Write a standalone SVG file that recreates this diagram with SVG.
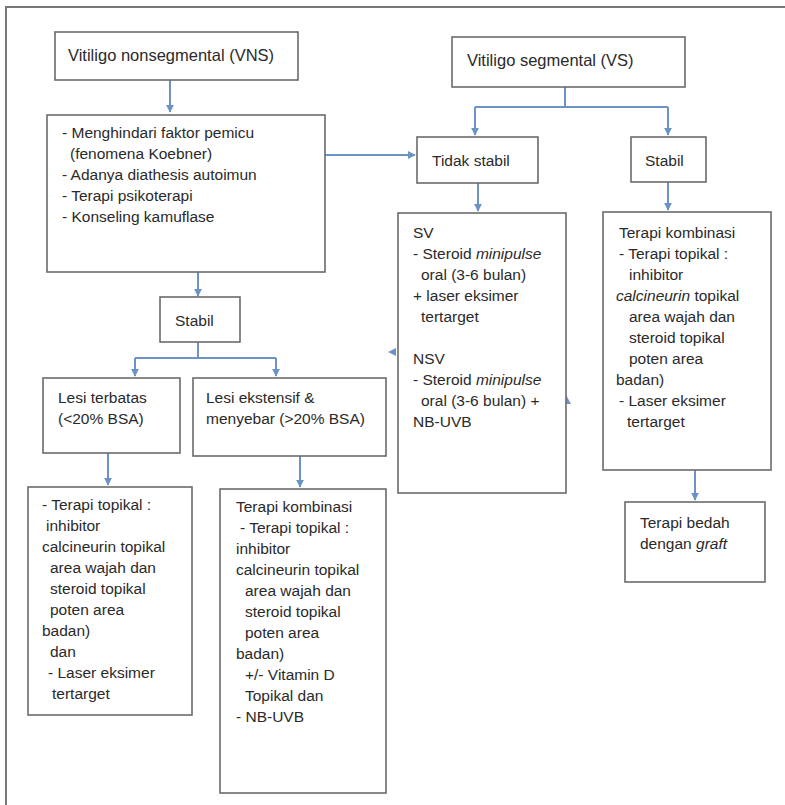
<svg xmlns="http://www.w3.org/2000/svg" width="785" height="805" viewBox="0 0 785 805">
<style>
.box{fill:#fff;stroke:#6b6b6b;stroke-width:1.6}
.t{font-family:"Liberation Sans",Arial,sans-serif;font-size:15.5px;fill:#2a2a2a}
.h{font-size:16.5px}
.c{fill:none;stroke:#6b93c6;stroke-width:2}
.frame{fill:none;stroke:#777;stroke-width:2}
</style>
<defs>
<marker id="ah" viewBox="0 0 10 10" refX="9" refY="5" markerWidth="4" markerHeight="4" orient="auto">
<path d="M0,0 L10,5 L0,10 z" fill="#6b93c6"/>
</marker>
</defs>
<rect width="785" height="805" fill="#fff"/>
<path class="frame" d="M6,805 V7 H785"/>

<g id="connectors">
<line class="c" x1="170" y1="80" x2="170" y2="112" marker-end="url(#ah)"/>
<line class="c" x1="325" y1="155" x2="415" y2="155" marker-end="url(#ah)"/>
<path class="c" d="M565,87 V107 M475,107 H668"/>
<line class="c" x1="475" y1="107" x2="475" y2="135" marker-end="url(#ah)"/>
<line class="c" x1="668" y1="107" x2="668" y2="135" marker-end="url(#ah)"/>
<line class="c" x1="478" y1="183" x2="478" y2="211" marker-end="url(#ah)"/>
<line class="c" x1="668" y1="182" x2="668" y2="210" marker-end="url(#ah)"/>
<line class="c" x1="695" y1="470" x2="695" y2="500" marker-end="url(#ah)"/>
<line class="c" x1="198" y1="272" x2="198" y2="296" marker-end="url(#ah)"/>
<path class="c" d="M198,342 V358 M135,358 H276"/>
<line class="c" x1="135" y1="358" x2="135" y2="376" marker-end="url(#ah)"/>
<line class="c" x1="276" y1="358" x2="276" y2="376" marker-end="url(#ah)"/>
<line class="c" x1="108" y1="453" x2="108" y2="485" marker-end="url(#ah)"/>
<line class="c" x1="300" y1="456" x2="300" y2="487" marker-end="url(#ah)"/>
<path d="M388,352 L396,348 L396,356 z" fill="#6b93c6"/>
<path d="M566,395 L561,404 L571,404 z" fill="#6b93c6"/>
</g>

<g id="vns">
<rect class="box" x="55" y="32" width="243" height="48"/>
<text class="t h" x="68" y="61">Vitiligo nonsegmental (VNS)</text>
</g>

<g id="vns-list">
<rect class="box" x="47" y="115" width="278" height="157"/>
<text class="t" x="62" y="138">- Menghindari faktor pemicu</text>
<text class="t" x="70" y="159">(fenomena Koebner)</text>
<text class="t" x="62" y="180">- Adanya diathesis autoimun</text>
<text class="t" x="62" y="201">- Terapi psikoterapi</text>
<text class="t" x="62" y="222">- Konseling kamuflase</text>
</g>

<g id="vs">
<rect class="box" x="452" y="37" width="233" height="50"/>
<text class="t h" x="467" y="66">Vitiligo segmental (VS)</text>
</g>

<g id="tidak-stabil">
<rect class="box" x="417" y="137" width="121" height="46"/>
<text class="t" x="432" y="166">Tidak stabil</text>
</g>

<g id="stabil-vs">
<rect class="box" x="631" y="137" width="75" height="45"/>
<text class="t" x="645" y="166">Stabil</text>
</g>

<g id="sv-nsv">
<rect class="box" x="398" y="213" width="168" height="280"/>
<text class="t" x="413" y="238">SV</text>
<text class="t" x="413" y="259">- Steroid <tspan font-style="italic">minipulse</tspan></text>
<text class="t" x="421" y="280">oral (3-6 bulan)</text>
<text class="t" x="413" y="301">+ laser eksimer</text>
<text class="t" x="421" y="322">tertarget</text>
<text class="t" x="413" y="364">NSV</text>
<text class="t" x="413" y="385">- Steroid <tspan font-style="italic">minipulse</tspan></text>
<text class="t" x="421" y="406">oral (3-6 bulan) +</text>
<text class="t" x="413" y="427">NB-UVB</text>
</g>

<g id="kombinasi-vs">
<rect class="box" x="603" y="212" width="168" height="258"/>
<text class="t" x="619" y="238">Terapi kombinasi</text>
<text class="t" x="619" y="259">- Terapi topikal :</text>
<text class="t" x="629" y="280">inhibitor</text>
<text class="t" x="616" y="301"><tspan font-style="italic">calcineurin</tspan>  topikal</text>
<text class="t" x="629" y="322">area wajah dan</text>
<text class="t" x="629" y="343">steroid topikal</text>
<text class="t" x="629" y="364">poten area</text>
<text class="t" x="616" y="385">badan)</text>
<text class="t" x="619" y="406">- Laser eksimer</text>
<text class="t" x="627" y="427">tertarget</text>
</g>

<g id="bedah">
<rect class="box" x="625" y="502" width="140" height="80"/>
<text class="t" x="640" y="528">Terapi bedah</text>
<text class="t" x="640" y="549">dengan <tspan font-style="italic">graft</tspan></text>
</g>

<g id="stabil-vns">
<rect class="box" x="160" y="297" width="80" height="45"/>
<text class="t" x="175" y="326">Stabil</text>
</g>

<g id="lesi-terbatas">
<rect class="box" x="43" y="378" width="137" height="75"/>
<text class="t" x="58" y="403">Lesi terbatas</text>
<text class="t" x="58" y="424">(&lt;20% BSA)</text>
</g>

<g id="lesi-ekstensif">
<rect class="box" x="193" y="378" width="193" height="78"/>
<text class="t" x="206" y="403">Lesi ekstensif &amp;</text>
<text class="t" x="206" y="424">menyebar (&gt;20% BSA)</text>
</g>

<g id="topikal-left">
<rect class="box" x="28" y="487" width="164" height="228"/>
<text class="t" x="42" y="510">- Terapi topikal :</text>
<text class="t" x="46" y="531">inhibitor</text>
<text class="t" x="42" y="552">calcineurin topikal</text>
<text class="t" x="50" y="573">area wajah dan</text>
<text class="t" x="50" y="594">steroid topikal</text>
<text class="t" x="50" y="615">poten area</text>
<text class="t" x="42" y="636">badan)</text>
<text class="t" x="50" y="657">dan</text>
<text class="t" x="48" y="678">- Laser eksimer</text>
<text class="t" x="52" y="699">tertarget</text>
</g>

<g id="kombinasi-vns">
<rect class="box" x="220" y="489" width="166" height="304"/>
<text class="t" x="236" y="512">Terapi kombinasi</text>
<text class="t" x="240" y="533">- Terapi topikal :</text>
<text class="t" x="236" y="554">inhibitor</text>
<text class="t" x="236" y="575">calcineurin topikal</text>
<text class="t" x="245" y="596">area wajah dan</text>
<text class="t" x="245" y="617">steroid topikal</text>
<text class="t" x="245" y="638">poten area</text>
<text class="t" x="236" y="659">badan)</text>
<text class="t" x="245" y="680">+/- Vitamin D</text>
<text class="t" x="245" y="701">Topikal dan</text>
<text class="t" x="236" y="722">- NB-UVB</text>
</g>
</svg>
